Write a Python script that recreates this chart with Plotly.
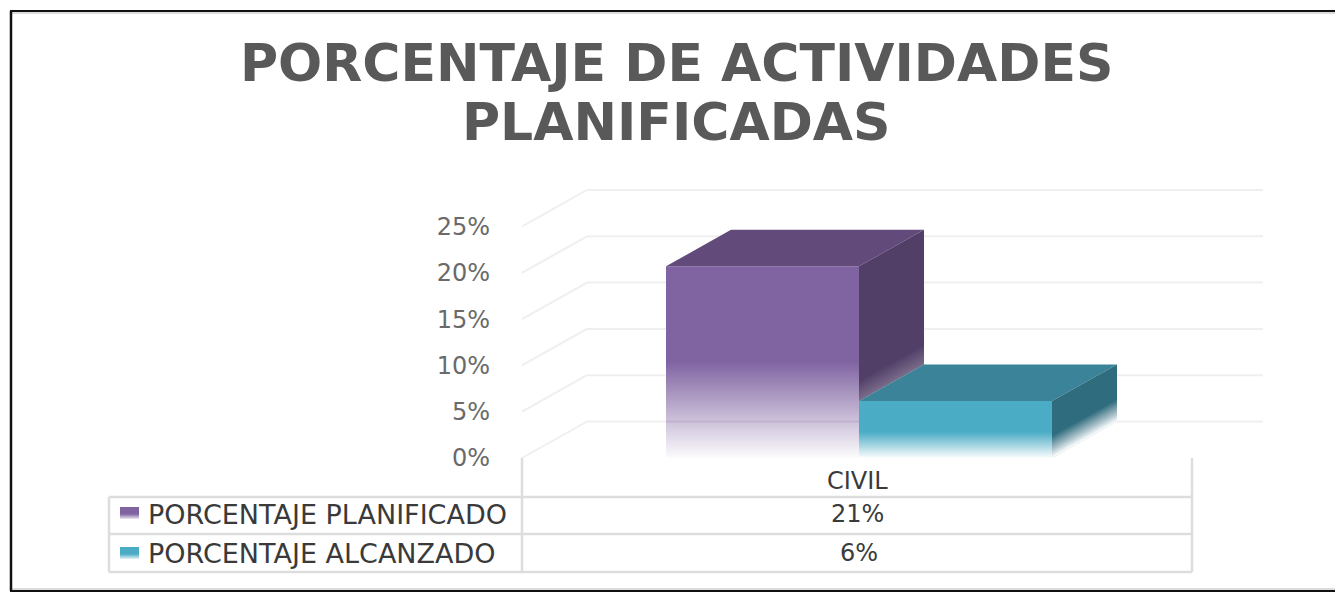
import plotly.graph_objects as go

# ---- data -------------------------------------------------------------
categories = ["CIVIL"]
series_names = ["PORCENTAJE PLANIFICADO", "PORCENTAJE ALCANZADO"]
planned_values = [20.7]
reached_values = [6.15]
table_planned = ["21%"]
table_reached = ["6%"]
tick_values = [0, 5, 10, 15, 20, 25]
tick_labels = ["0%", "5%", "10%", "15%", "20%", "25%"]
title_lines = ["PORCENTAJE DE ACTIVIDADES", "PLANIFICADAS"]

# ---- layout constants ---------------------------------------------------
W, H = 1335, 596
Y0_PX = 458.0
PX_PER_UNIT = 46.3 / 5
def val(py):
    return (Y0_PX - py) / PX_PER_UNIT

DX = 65
DY = 36.5 / PX_PER_UNIT
WALL_L, WALL_R = 522, 1263
BAR_L, BAR_W = 666, 193
PURPLE = dict(front="#8064A2", top="#624B7A", side="#523F68")
TEAL = dict(front="#4BACC6", top="#3A8398", side="#2F6C7E")
GRID = "#EFEFEF"
TLINE = "#DDDDDD"
TEXT = "#595959"
TFONT = "DejaVu Sans"

fig = go.Figure()

def poly(xs, ys, color):
    fig.add_trace(go.Scatter(x=xs, y=ys, mode="none", fill="toself", fillcolor=color,
                             hoverinfo="skip", showlegend=False))

def fade(xs, ys, start, stop, a=0.98):
    fig.add_trace(go.Scatter(
        x=xs, y=ys, mode="none", fill="toself", hoverinfo="skip", showlegend=False,
        fillgradient=dict(type="vertical", start=start, stop=stop,
                          colorscale=[[0, "rgba(255,255,255,0)"],
                                      [1, f"rgba(255,255,255,{a})"]])))

# front faces: real bars
for i, (name, vals, col) in enumerate(zip(series_names, [planned_values, reached_values], [PURPLE, TEAL])):
    fig.add_trace(go.Bar(x=[BAR_L + BAR_W * (i + 0.5)], y=vals, width=BAR_W, name=name,
                         marker=dict(color=col["front"], line=dict(width=0)),
                         showlegend=False, hovertemplate=name + ": %{y}%<extra></extra>"))

def box_faces(left, v, col, fade_from, floor, n, max_alpha):
    """Top and side faces; the side stops at value `floor` and fades (skewed) towards value 0."""
    right = left + BAR_W
    poly([left, left + DX, right + DX, right, left], [v, v + DY, v + DY, v, v], col["top"])
    poly([right, right + DX, right + DX, right, right], [v, v + DY, floor + DY, floor, v], col["side"])
    prev = 0.0
    for k in range(n):
        a = fade_from * (1 - k / n)
        if a <= floor:
            break
        target = (k + 1) / n * max_alpha
        step = 1 - (1 - target) / (1 - prev)
        prev = target
        poly([right, right + DX, right + DX, right, right],
             [a, a + DY, floor + DY, floor, a], f"rgba(255,255,255,{step:.4f})")

box_faces(BAR_L, planned_values[0], PURPLE, val(382), reached_values[0], 30, 0.95)
fade([BAR_L, BAR_L + BAR_W, BAR_L + BAR_W, BAR_L, BAR_L], [val(362), val(362), 0, 0, val(362)], val(362), 0)
box_faces(BAR_L + BAR_W, reached_values[0], TEAL, val(436), 0, 22, 0.98)
fade([BAR_L + BAR_W, BAR_L + 2 * BAR_W, BAR_L + 2 * BAR_W, BAR_L + BAR_W, BAR_L + BAR_W],
     [val(432), val(432), 0, 0, val(432)], val(432), 0)

# legend keys of the data table
for py, col in zip([507, 547], [PURPLE, TEAL]):
    poly([120, 139, 139, 120, 120], [val(py), val(py), val(py + 12), val(py + 12), val(py)], col["front"])
    fade([120, 139, 139, 120, 120], [val(py + 7), val(py + 7), val(py + 12), val(py + 12), val(py + 7)],
         val(py + 7), val(py + 12), 0.85)

shapes = []
def line(x0, y0, x1, y1, color, width, layer="below"):
    shapes.append(dict(type="line", xref="x", yref="y", x0=x0, y0=y0, x1=x1, y1=y1,
                       line=dict(color=color, width=width), layer=layer))

# wall grid
for t in tick_values:
    line(WALL_L, t, WALL_L + DX, t + DY, GRID, 2)
    line(WALL_L + DX, t + DY, WALL_R, t + DY, GRID, 2)

# data table
for py in [497, 534, 572]:
    line(109, val(py), 1192, val(py), TLINE, 2.5)
line(109, val(497), 109, val(572), TLINE, 2.5)
line(522, val(458), 522, val(572), TLINE, 2.5)
line(1192, val(458), 1192, val(572), TLINE, 2.5)

# photo frame
line(12, val(13), W, val(13), "#DCDCDC", 2)
line(12, val(589), W, val(589), "#DCDCDC", 2)
line(11, val(11), 11, val(591), "#111111", 2.5, "above")
line(10, val(11), W, val(11), "#111111", 2, "above")
line(10, val(591), W, val(591), "#111111", 2, "above")

# faint wall grid seen through the faded foot of the purple bar
line(BAR_L, DY, BAR_L + BAR_W, DY, "rgba(150,125,175,0.22)", 2, "above")

annots = []
def txt(x, py, s, anchor="center", size=20, color="#3A3A3A", weight="normal"):
    annots.append(dict(x=x, y=val(py), xref="x", yref="y", text=s, showarrow=False,
                       xanchor=anchor, yanchor="middle",
                       font=dict(family=TFONT, size=size, color=color, weight=weight)))

txt(676.5, 63, title_lines[0], size=52, color=TEXT, weight="bold")
txt(676.5, 122, title_lines[1], size=52, color=TEXT, weight="bold")
txt(857, 481, categories[0], size=24)
txt(857, 514, table_planned[0], size=24)
txt(859, 553, table_reached[0], size=24)
txt(146, 514, series_names[0], "left", size=27)
txt(146, 553, series_names[1], "left", size=27)

fig.update_layout(
    width=W, height=H, margin=dict(l=0, r=0, t=0, b=0),
    paper_bgcolor="white", plot_bgcolor="white", barmode="overlay", showlegend=False,
    xaxis=dict(range=[0, W], visible=False, fixedrange=True),
    yaxis=dict(range=[val(H), val(0)], anchor="free", position=490 / W, showgrid=False, zeroline=False,
               showline=False, ticks="", tickvals=tick_values, ticktext=tick_labels, fixedrange=True,
               tickfont=dict(family=TFONT, size=24, color="#6A6A6A")),
    shapes=shapes, annotations=annots,
)
fig.write_html("out.html", post_script="document.body.style.margin='0';",
               config=dict(displayModeBar=False))
